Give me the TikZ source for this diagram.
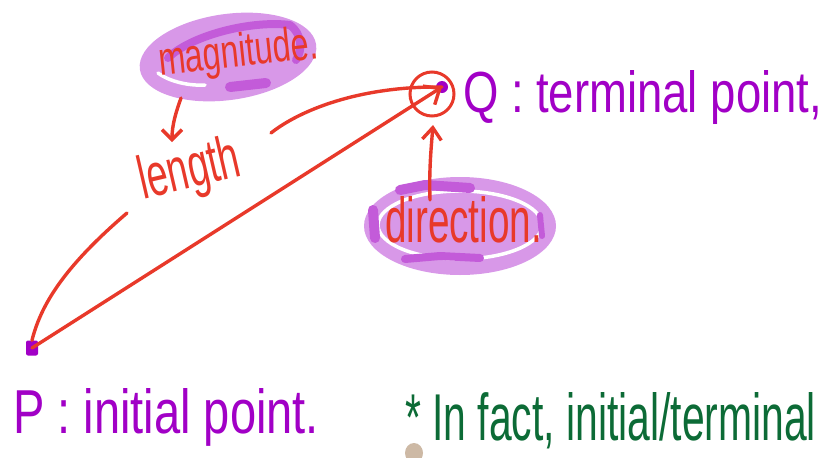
\documentclass[tikz,border=0pt]{standalone}
\usepackage{fontspec}
\setmainfont{Liberation Sans}
\usetikzlibrary{shapes.geometric,arrows.meta}
\definecolor{inkred}{HTML}{E8392A}
\definecolor{inkpurple}{HTML}{A100C6}
\definecolor{inkgreen}{HTML}{0C6B36}
\definecolor{hilite}{HTML}{D898E8}
\definecolor{hilitedark}{HTML}{C35BD9}
\definecolor{beige}{HTML}{CDB9A5}
\newcommand\fitbox[3]{\resizebox{#1}{#2}{#3}}
\begin{document}
\begin{tikzpicture}[x=1pt,y=-1pt,
  ink/.style={draw=inkred,line width=3.4pt,line cap=round,line join=round},
  tipped/.style={-{Straight Barb[length=10pt,width=20pt]}},
  hl/.style={ellipse,fill=hilite,draw=none,inner sep=0pt},
  blot/.style={draw=hilitedark,line cap=round,line join=round,line width=10pt},
  gap/.style={draw=white,line cap=round,line width=3.5pt},
  txt/.style={anchor=base west,inner sep=0pt,outer sep=0pt}]
\useasboundingbox (0,0) rectangle (825,458);

% highlight behind "magnitude."
\node[hl,minimum width=178pt,minimum height=86pt,rotate=8] (magbg) at (228,57) {};
\draw[blot,line width=8pt] (168,58) .. controls (190,36) and (250,20) .. (290,25) .. controls (302,34) and (303,50) .. (296,60);
\draw[blot] (230,87) -- (266,83);
\draw[gap] (158,73) .. controls (170,82) and (190,86) .. (205,85);

% highlight behind "direction."
\node[hl,minimum width=192pt,minimum height=98pt] (dirbg) at (460,226) {};
\draw[gap] (460,225) ellipse [x radius=82, y radius=34];
\draw[blot] (400,190) -- (425,185) -- (470,188);
\draw[blot] (373,210) -- (375,238);
\draw[blot,line width=8pt] (405,259) -- (440,256) -- (480,258);
\draw[blot,line width=6pt] (540,215) -- (542,236);

% points
\node[rectangle,fill=inkpurple,minimum width=12pt,minimum height=15pt,rounded corners=2pt,inner sep=0pt] (P) at (32,348) {};
\node[circle,fill=inkpurple,minimum size=12pt,inner sep=0pt] (Q) at (442,87) {};
\node[circle,draw=inkred,line width=3pt,minimum size=44pt,inner sep=0pt] (qc) at (432,94) {};

% texts
\node[txt,text=inkred,rotate=6] (mag) at (160,75) {\fitbox{160pt}{34pt}{magnitude.}};
\node[txt,text=inkred,rotate=13] (len) at (143,199) {\fitbox{103pt}{44pt}{length}};
\node[txt,text=inkred] (dir) at (385,242) {\fitbox{157pt}{46pt}{direction.}};
\node[txt,text=inkpurple] (qlab) at (463,112) {\fitbox{359pt}{42pt}{Q : terminal point,}};
\node[txt,text=inkpurple] (plab) at (13,433) {\fitbox{306pt}{45pt}{P : initial point.}};
\node[txt,text=inkgreen] (note) at (405,440) {\fitbox{411pt}{48pt}{* In fact, initial/terminal}};

% connector coordinates
\coordinate (lenA) at (127,213);
\coordinate (lenB) at (271,133);
\coordinate (magtail) at (181,98);
\coordinate (lenhead) at (172,142);
\coordinate (dirtail) at (430,200);
\coordinate (dirhead) at (433,125);

% arrows
\draw[ink,-{Straight Barb[length=13pt,width=22pt]}] (P.center) -- (Q.center);
\draw[ink] (P.north) .. controls (42,300) and (70,262) .. (lenA);
\draw[ink] (lenB) .. controls (300,110) and (360,86) .. (Q.center);
\draw[ink,tipped] (magtail) .. controls (176,112) and (172,125) .. (lenhead);
\draw[ink,-{Straight Barb[length=12pt,width=19pt]}] (dirtail) .. controls (429,170) and (431,150) .. (dirhead);

% stray mark
\fill[beige] (414,453) ellipse [x radius=9, y radius=10];
\end{tikzpicture}
\end{document}
